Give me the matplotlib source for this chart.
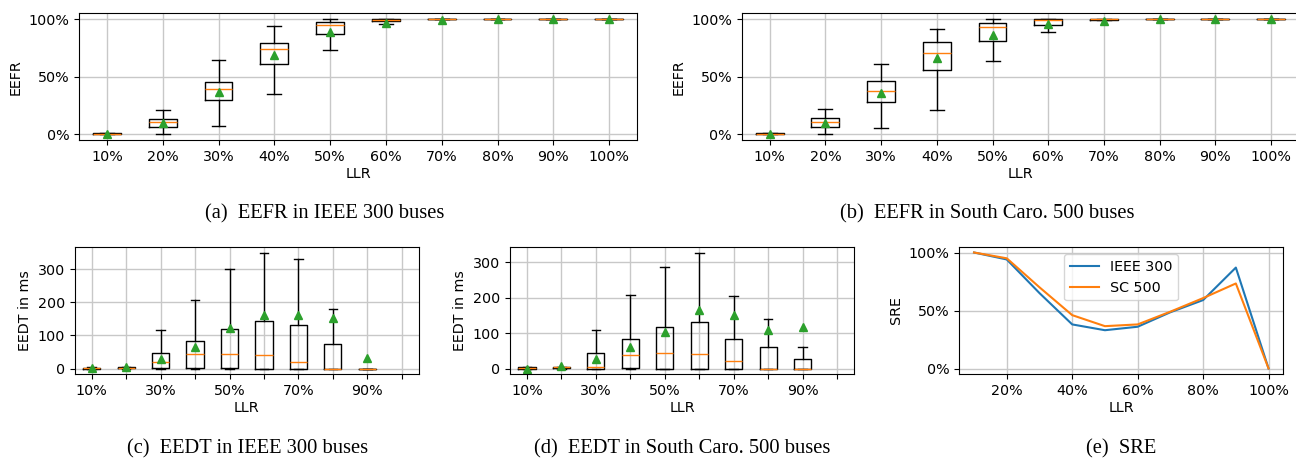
import matplotlib
matplotlib.use("Agg")
import matplotlib.pyplot as plt
from matplotlib.ticker import PercentFormatter

# ---------------- data ----------------
llr = [0.1, 0.2, 0.3, 0.4, 0.5, 0.6, 0.7, 0.8, 0.9, 1.0]
llr_labels = ["10%", "20%", "30%", "40%", "50%", "60%", "70%", "80%", "90%", "100%"]

# (a) EEFR, IEEE 300 buses
a_whislo = [0.0, 0.0, 0.075, 0.347, 0.734, 0.954, 1.0, 1.0, 1.0, 1.0]
a_q1     = [0.0, 0.064, 0.298, 0.610, 0.870, 0.983, 1.0, 1.0, 1.0, 1.0]
a_med    = [0.0, 0.104, 0.396, 0.740, 0.948, 0.994, 1.0, 1.0, 1.0, 1.0]
a_q3     = [0.008, 0.130, 0.451, 0.789, 0.971, 1.0, 1.0, 1.0, 1.0, 1.0]
a_whishi = [0.010, 0.208, 0.642, 0.942, 1.0, 1.0, 1.0, 1.0, 1.0, 1.0]
a_mean   = [0.002, 0.098, 0.367, 0.688, 0.887, 0.968, 0.995, 0.998, 0.998, 0.998]

# (b) EEFR, South Carolina 500 buses
b_whislo = [0.0, 0.006, 0.052, 0.208, 0.633, 0.884, 0.988, 1.0, 1.0, 1.0]
b_q1     = [0.0, 0.066, 0.277, 0.558, 0.810, 0.951, 0.994, 1.0, 1.0, 1.0]
b_med    = [0.0, 0.104, 0.373, 0.708, 0.930, 0.988, 1.0, 1.0, 1.0, 1.0]
b_q3     = [0.008, 0.145, 0.460, 0.800, 0.962, 1.0, 1.0, 1.0, 1.0, 1.0]
b_whishi = [0.012, 0.217, 0.607, 0.916, 0.997, 1.0, 1.0, 1.0, 1.0, 1.0]
b_mean   = [0.002, 0.100, 0.358, 0.662, 0.864, 0.954, 0.983, 0.998, 0.998, 0.998]

# (c) EEDT in ms, IEEE 300 buses (no data at 100%)
c_whislo = [0, 0, 0, 0, 0, 0, 0, 0, 0]
c_q1     = [0, 1, 1, 3, 1, 0, 0, 0, 0]
c_med    = [1, 3, 20, 43, 45, 41, 20, 0, 0]
c_q3     = [3, 4, 46, 84, 120, 142, 132, 75, 0]
c_whishi = [4, 6, 115, 207, 301, 350, 330, 181, 0]
c_mean   = [1, 5, 30, 66, 123, 160, 160, 151, 33]

# (d) EEDT in ms, South Carolina 500 buses (no data at 100%)
d_whislo = [0, 0, 0, 0, 0, 0, 0, 0, 0]
d_q1     = [0, 1, 0, 1, 0, 0, 0, 0, 0]
d_med    = [1, 3, 3, 39, 44, 40, 20, 0, 0]
d_q3     = [3, 4, 44, 84, 116, 132, 83, 62, 26]
d_whishi = [4, 5, 109, 208, 287, 328, 205, 140, 60]
d_mean   = [0, 6, 28, 61, 103, 166, 150, 110, 116]

# (e) SRE
sre_ieee300 = [1.00, 0.94, 0.65, 0.38, 0.33, 0.36, 0.485, 0.59, 0.87, 0.0]
sre_sc500   = [1.00, 0.95, 0.70, 0.46, 0.365, 0.38, 0.49, 0.607, 0.733, 0.0]

# ---------------- style ----------------
FS = 10.3
plt.rcParams.update({
    "font.family": ["DejaVu Sans"],
    "font.size": FS,
    "axes.labelsize": FS,
    "xtick.labelsize": FS,
    "ytick.labelsize": FS,
    "legend.fontsize": FS,
})

W, H = 1296, 459
fig = plt.figure(figsize=(W / 100, H / 100), dpi=100)


def px_axes(x0, x1, y0, y1):
    return fig.add_axes([x0 / W, 1 - y1 / H, (x1 - x0) / W, (y1 - y0) / H])


def make_stats(wlo, q1, med, q3, whi, mean):
    return [dict(whislo=a, q1=b, med=c, q3=d, whishi=e, mean=f)
            for a, b, c, d, e, f in zip(wlo, q1, med, q3, whi, mean)]


def draw_box(ax, stats, ylabel, percent, every_other):
    pos = list(range(1, len(stats) + 1))
    ax.bxp(stats, positions=pos, widths=0.5, showmeans=True, showfliers=False,
           medianprops=dict(color="C1", linewidth=1.0),
           meanprops=dict(marker="^", markerfacecolor="C2", markeredgecolor="C2",
                          markersize=6))
    ticks = list(range(1, len(llr_labels) + 1))
    labels = [lab if (not every_other or i % 2 == 0) else ""
              for i, lab in enumerate(llr_labels)]
    ax.set_xticks(ticks, labels=labels)
    ax.set_xlim(0.5, len(llr_labels) + 0.5)
    if percent:
        ax.set_ylim(-0.05, 1.05)
        ax.set_yticks([0, 0.5, 1.0])
        ax.yaxis.set_major_formatter(PercentFormatter(xmax=1, decimals=0))
    ax.grid(True, color="#c8c8c8", linewidth=1.0)
    ax.set_axisbelow(True)
    ax.set_xlabel("LLR", labelpad=2)
    ax.set_ylabel(ylabel)


ax_a = px_axes(79, 637, 13.3, 140)
draw_box(ax_a, make_stats(a_whislo, a_q1, a_med, a_q3, a_whishi, a_mean), "EEFR", True, False)

ax_b = px_axes(741.8, 1299, 13.3, 140)
draw_box(ax_b, make_stats(b_whislo, b_q1, b_med, b_q3, b_whishi, b_mean), "EEFR", True, False)

ax_c = px_axes(74.5, 419, 246.7, 374.3)
draw_box(ax_c, make_stats(c_whislo, c_q1, c_med, c_q3, c_whishi, c_mean), "EEDT in ms", False, True)
ax_c.set_yticks([0, 100, 200, 300])

ax_d = px_axes(509.7, 854.3, 246.7, 374.3)
draw_box(ax_d, make_stats(d_whislo, d_q1, d_med, d_q3, d_whishi, d_mean), "EEDT in ms", False, True)
ax_d.set_yticks([0, 100, 200, 300])

ax_e = px_axes(959.3, 1283.3, 246.7, 374.3)
ax_e.plot(llr, sre_ieee300, color="C0", linewidth=1.5, label="IEEE 300")
ax_e.plot(llr, sre_sc500, color="C1", linewidth=1.5, label="SC 500")
ax_e.set_xticks([0.2, 0.4, 0.6, 0.8, 1.0])
ax_e.set_yticks([0, 0.5, 1.0])
ax_e.xaxis.set_major_formatter(PercentFormatter(xmax=1, decimals=0))
ax_e.yaxis.set_major_formatter(PercentFormatter(xmax=1, decimals=0))
ax_e.grid(True, color="#c8c8c8", linewidth=1.0)
ax_e.set_xlabel("LLR", labelpad=2)
ax_e.set_ylabel("SRE")
ax_e.legend(loc="upper center")

# ---------------- captions ----------------
cap_kw = dict(family=["Liberation Serif", "DejaVu Serif"], fontsize=14.8,
              ha="center", va="center")
fig.text(325 / W, 1 - 214 / H, "(a)  EEFR in IEEE 300 buses", **cap_kw)
fig.text(987 / W, 1 - 214 / H, "(b)  EEFR in South Caro. 500 buses", **cap_kw)
fig.text(248 / W, 1 - 449 / H, "(c)  EEDT in IEEE 300 buses", **cap_kw)
fig.text(682 / W, 1 - 449 / H, "(d)  EEDT in South Caro. 500 buses", **cap_kw)
fig.text(1121 / W, 1 - 449 / H, "(e)  SRE", **cap_kw)

fig.savefig("out.png", dpi=100)
